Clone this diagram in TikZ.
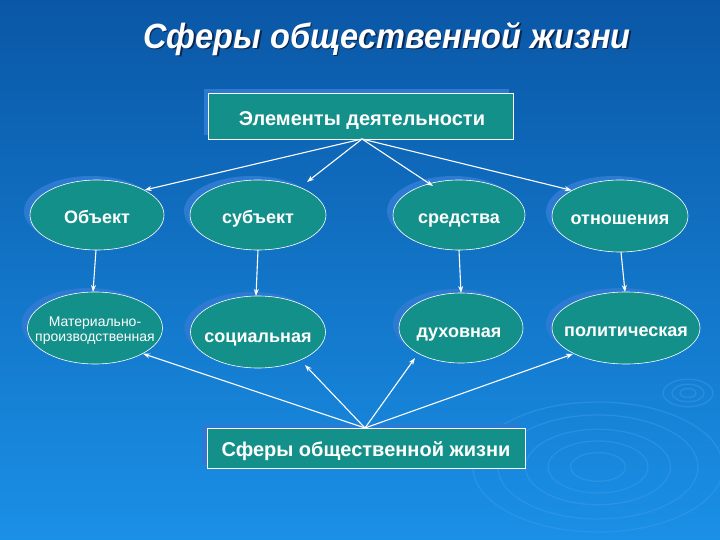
\documentclass[tikz,border=0pt]{standalone}
\usepackage{fontspec}
\setmainfont{Liberation Sans}
\usetikzlibrary{shapes.geometric,arrows.meta,shadows}
\definecolor{bgtop}{HTML}{0A57A6}
\definecolor{bgbot}{HTML}{1A90E6}
\definecolor{tealbox}{HTML}{13908A}
\definecolor{shade}{HTML}{2C7AD2}
\definecolor{ripple}{HTML}{3A9AE8}
\definecolor{titleshadow}{HTML}{0A2850}
\tikzset{
  ell/.style={ellipse, draw=white, line width=0.6pt, fill=tealbox, inner sep=0pt,
    drop shadow={shadow xshift=-6pt, shadow yshift=4pt, fill=shade, opacity=1}},
  rbox/.style={rectangle, draw=white, line width=0.6pt, fill=tealbox, inner sep=0pt,
    drop shadow={shadow xshift=-5pt, shadow yshift=4pt, fill=shade, opacity=1}},
  lbl/.style={anchor=base, text=white, inner sep=0pt, font=\fontsize{18}{20}\selectfont\bfseries},
  arr/.style={draw=white, line width=1.1pt, -{Stealth[length=7pt,width=5pt]}},
  rip/.style={draw=ripple, line width=1.3pt, opacity=0.5},
  ttl/.style={font=\fontsize{35}{40}\selectfont\bfseries\itshape}
}
\begin{document}
\begin{tikzpicture}[x=1pt,y=-1pt]
\useasboundingbox (0,0) rectangle (720,540);
\shade[top color=bgtop, bottom color=bgbot] (0,0) rectangle (720,540);
% ripples
\foreach \r in {22,40,58,80,100}{\draw[rip] (598,467) ellipse ({\r*1.25} and {\r*0.65});}
\foreach \r in {8,16,25}{\draw[rip] (688,393) ellipse ({\r} and {\r*0.55});}
% title
\node[text=titleshadow, ttl] (titlesh) at (388.5,40.5) {\scalebox{0.93}[1]{Сферы общественной жизни}};
\node[text=white, ttl] (title) at (387,39) {\scalebox{0.93}[1]{Сферы общественной жизни}};
% top box
\node[rbox, minimum width=305pt, minimum height=46pt] (top) at (361,116) {};
\node[lbl, font=\fontsize{20}{22}\selectfont\bfseries] (topt) at (362,125.5) {Элементы деятельности};
% ellipses
\node[ell, minimum width=134pt, minimum height=70pt] (obj) at (97,215) {};
\node[ell, minimum width=136pt, minimum height=70pt] (sub) at (258,215) {};
\node[ell, minimum width=132pt, minimum height=70pt] (sred) at (459,215) {};
\node[ell, minimum width=136pt, minimum height=72pt] (otn) at (620,216) {};
\node[ell, minimum width=135pt, minimum height=72pt] (mat) at (95,328) {};
\node[ell, minimum width=135pt, minimum height=72pt] (soc) at (258,332) {};
\node[ell, minimum width=124pt, minimum height=70pt] (duh) at (461,328) {};
\node[ell, minimum width=148pt, minimum height=72pt] (pol) at (626,328) {};
\node[lbl] (objt) at (97,223.5) {Объект};
\node[lbl] (subt) at (258,223.5) {субъект};
\node[lbl] (sredt) at (459,223.5) {средства};
\node[lbl] (otnt) at (620,225) {отношения};
\node[lbl, font=\fontsize{14}{16}\selectfont] (matt1) at (95,326.5) {Материально-};
\node[lbl, font=\fontsize{14}{16}\selectfont] (matt2) at (95,341.5) {производственная};
\node[lbl] (soct) at (258,342.5) {социальная};
\node[lbl] (duht) at (459,337.5) {духовная};
\node[lbl] (polt) at (626,336.5) {политическая};
% bottom box
\node[rbox, minimum width=318pt, minimum height=40pt] (bot) at (366,448) {};
\node[lbl, font=\fontsize{20}{22}\selectfont\bfseries] (bott) at (366,456.5) {Сферы общественной жизни};
% arrows top
\coordinate (tp) at (362,139);
\draw[arr] (tp) -- (obj.north east);
\draw[arr] (tp) -- (307,182);
\draw[arr] (tp) -- (433,186);
\draw[arr] (tp) -- (otn.north west);
% vertical arrows
\draw[arr] (96,250) -- (93,292);
\draw[arr] (258,250) -- (256,296);
\draw[arr] (459,250) -- (461,293);
\draw[arr] (621,252) -- (625,292);
% bottom arrows
\coordinate (bp) at (365,428);
\draw[arr] (bp) -- (mat.south east);
\draw[arr] (bp) -- (305,365);
\draw[arr] (bp) -- (415,358);
\draw[arr] (bp) -- (573,354);
\end{tikzpicture}
\end{document}
